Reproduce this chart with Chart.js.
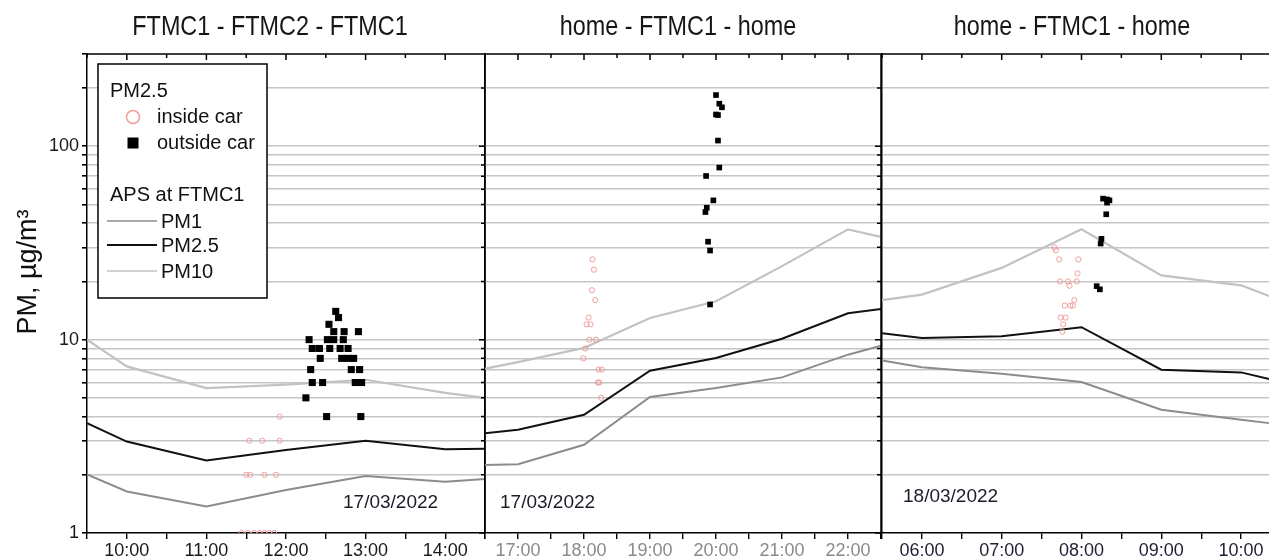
<!DOCTYPE html>
<html><head><meta charset="utf-8">
<script src="https://cdn.jsdelivr.net/npm/chart.js@4.4.1/dist/chart.umd.min.js"></script>
<style>
html,body{margin:0;padding:0;background:#fff;width:1269px;height:560px;overflow:hidden;position:relative}
canvas{position:absolute;top:0}
</style></head><body>
<canvas id="c1" width="490" height="560" style="left:0px"></canvas>
<canvas id="c2" width="406" height="560" style="left:480px"></canvas>
<canvas id="c3" width="410" height="560" style="left:877px"></canvas>
<script>
// ---------- data ----------
const panelTitles = ['FTMC1 - FTMC2 - FTMC1', 'home - FTMC1 - home', 'home - FTMC1 - home'];
const panelDates = ['17/03/2022', '17/03/2022', '18/03/2022'];
const yGridValues = [1,2,3,4,5,6,7,8,9,10,20,30,40,50,60,70,80,90,100,200,300];
const yLabelValues = [1, 10, 100];
const legendHeads = ['PM2.5', 'APS at FTMC1'];
const legendPoints = ['inside car', 'outside car'];
const legendLines = ['PM1', 'PM2.5', 'PM10'];

// panel 1 (17/03/2022, 09:30-14:30), hours as decimal
const p1Hours = [9.5, 10, 11, 12, 13, 14, 14.5];
const p1PM1  = [2.01, 1.64, 1.37, 1.67, 1.97, 1.84, 1.9];
const p1PM25 = [3.70, 2.97, 2.37, 2.69, 3.0, 2.71, 2.73];
const p1PM10 = [10.0, 7.27, 5.62, 5.85, 6.2, 5.3, 5.0];
const p1InX = [11.92, 11.54, 11.70, 11.92, 11.50, 11.55, 11.73, 11.875, 11.44, 11.52, 11.60, 11.67, 11.73, 11.79, 11.85];
const p1InY = [4, 3, 3, 3, 2, 2, 2, 2, 1, 1, 1, 1, 1, 1, 1];
const p1OutX = [12.625, 12.66, 12.54, 12.60, 12.73, 12.91, 12.29, 12.52, 12.60, 12.72, 12.33, 12.42, 12.55, 12.68, 12.78, 12.43, 12.70, 12.78, 12.85, 12.31, 12.82, 12.925, 12.33, 12.46, 12.87, 12.95, 12.25, 12.51, 12.94];
const p1OutY = [14, 13, 12, 11, 11, 11, 10, 10, 10, 10, 9, 9, 9, 9, 9, 8, 8, 8, 8, 7, 7, 7, 6, 6, 6, 6, 5, 4, 4];

// panel 2 (17/03/2022, 16:30-22:30)
const p2Hours = [16.5, 17, 18, 19, 20, 21, 22, 22.5];
const p2PM1  = [2.25, 2.27, 2.86, 5.05, 5.62, 6.38, 8.36, 9.3];
const p2PM25 = [3.28, 3.42, 4.09, 6.91, 8.04, 10.1, 13.7, 14.4];
const p2PM10 = [7.08, 7.65, 9.06, 12.95, 15.8, 24.0, 37.2, 34.0];
const p2InX = [18.13, 18.15, 18.12, 18.17, 18.07, 18.04, 18.10, 18.08, 18.18, 18.02, 17.99, 18.22, 18.27, 18.21, 18.23, 18.26];
const p2InY = [26, 23, 18, 16, 13, 12, 12, 10, 10, 9, 8, 7, 7, 6, 6, 5];
const p2OutX = [20.00, 20.05, 20.09, 20.00, 20.03, 20.03, 20.05, 19.85, 19.96, 19.86, 19.84, 19.88, 19.91, 19.91];
const p2OutY = [184, 166, 159, 146, 145, 107, 77.6, 70.2, 52.5, 48.1, 45.7, 32.1, 28.9, 15.2];

// panel 3 (18/03/2022, 05:30-10:30)
const p3Hours = [5.5, 6, 7, 8, 9, 10, 10.35];
const p3PM1  = [7.81, 7.19, 6.66, 6.04, 4.34, 3.85, 3.70];
const p3PM25 = [10.8, 10.2, 10.4, 11.6, 6.99, 6.77, 6.26];
const p3PM10 = [16.0, 17.1, 23.5, 37.2, 21.5, 19.1, 16.8];
const p3InX = [7.66, 7.68, 7.72, 7.96, 7.95, 7.73, 7.83, 7.94, 7.85, 7.91, 7.79, 7.86, 7.89, 7.74, 7.80, 7.77, 7.76];
const p3InY = [30, 29, 26, 26, 22, 20, 20, 20, 19, 16, 15, 15, 15, 13, 13, 12, 11];
const p3OutX = [8.27, 8.32, 8.35, 8.32, 8.31, 8.25, 8.24, 8.19, 8.23];
const p3OutY = [53.6, 53.1, 52.5, 51.1, 44.5, 33.2, 31.4, 18.9, 18.2];

// ---------- styling ----------
const FONT = '"Liberation Sans", Arial, sans-serif';
Chart.defaults.font.family = FONT;
const COL = {pm1: '#8c8c8c', pm25: '#111111', pm10: '#c2c2c2', inside: '#f29c9c', grid: '#c6c6c6'};

function pts(xs, ys) { return xs.map((x, i) => ({x: x, y: ys[i]})); }
function hhmm(v) { return String(v).padStart(2, '0') + ':00'; }
function isDecade(v) { const l = Math.log10(v); return Math.abs(l - Math.round(l)) < 1e-9; }

const framePlugin = {
  id: 'frame',
  afterDraw(chart, args, o) {
    const ctx = chart.ctx, a = chart.chartArea, x = chart.scales.x, y = chart.scales.y;
    ctx.save();
    ctx.strokeStyle = '#000'; ctx.lineWidth = 1.5;
    ctx.beginPath();
    ctx.moveTo(a.left, a.top); ctx.lineTo(a.right, a.top);
    if (o.rightBorder) { ctx.moveTo(a.right, a.top); ctx.lineTo(a.right, a.bottom); }
    x.ticks.forEach(t => {
      const px = x.getPixelForValue(t.value);
      const len = Number.isInteger(t.value) ? 6 : 4;
      ctx.moveTo(px, a.top); ctx.lineTo(px, a.top + len);
    });
    if (o.rightBorder) {
      y.ticks.forEach(t => {
        const py = y.getPixelForValue(t.value);
        const len = isDecade(t.value) ? 6 : 4;
        ctx.moveTo(a.right, py); ctx.lineTo(a.right - len, py);
      });
    }
    ctx.stroke();
    // panel title (narrow face)
    ctx.fillStyle = '#161616';
    ctx.font = '28px ' + FONT;
    ctx.textAlign = 'center'; ctx.textBaseline = 'alphabetic';
    ctx.save();
    ctx.translate(a.left + o.titleDx, 35);
    ctx.scale(0.835, 1);
    ctx.fillText(o.title, 0, 0);
    ctx.restore();
    // date
    ctx.font = '19px ' + FONT;
    ctx.textAlign = 'left'; ctx.textBaseline = 'middle';
    ctx.fillStyle = '#1c1c2a';
    ctx.fillText(o.date, a.left + o.dateDx, a.bottom - o.dateDy);
    ctx.restore();
  }
};

const legendPlugin = {
  id: 'boxLegend',
  afterDraw(chart, args, o) {
    if (!o.show) return;
    const ctx = chart.ctx;
    ctx.save();
    ctx.fillStyle = '#fff';
    ctx.fillRect(98, 64, 169, 234);
    ctx.strokeStyle = '#000'; ctx.lineWidth = 1.5;
    ctx.strokeRect(98, 64, 169, 234);
    ctx.font = '20px ' + FONT;
    ctx.fillStyle = '#111';
    ctx.textAlign = 'left'; ctx.textBaseline = 'middle';
    ctx.fillText(legendHeads[0], 110, 91);
    ctx.beginPath(); ctx.arc(133, 117, 6.5, 0, Math.PI * 2);
    ctx.strokeStyle = COL.inside; ctx.lineWidth = 1.5; ctx.stroke();
    ctx.fillText(legendPoints[0], 157, 117);
    ctx.fillStyle = '#000'; ctx.fillRect(127.5, 137.5, 11, 11);
    ctx.fillStyle = '#111';
    ctx.fillText(legendPoints[1], 157, 143);
    ctx.fillText(legendHeads[1], 110, 195);
    const ly = [221, 245, 271], lc = [COL.pm1, COL.pm25, COL.pm10], lw = [1.6, 2, 1.6];
    legendLines.forEach((name, i) => {
      ctx.beginPath(); ctx.moveTo(107, ly[i]); ctx.lineTo(157, ly[i]);
      ctx.strokeStyle = lc[i]; ctx.lineWidth = lw[i]; ctx.stroke();
      ctx.fillStyle = '#111';
      ctx.fillText(name, 161, ly[i] + 1);
    });
    // y-axis title
    ctx.save();
    ctx.translate(36, 272); ctx.rotate(-Math.PI / 2);
    ctx.font = '27px ' + FONT; ctx.textAlign = 'center'; ctx.textBaseline = 'alphabetic';
    ctx.fillStyle = '#111';
    ctx.fillText('PM, \u00b5g/m\u00b3', 0, 0);
    ctx.restore();
    ctx.restore();
  }
};

function panel(id, o) {
  const datasets = [
    {type: 'scatter', label: legendPoints[1], data: pts(o.outX, o.outY), pointStyle: 'rect', pointRadius: o.sq,
     backgroundColor: '#000', borderColor: '#000', borderWidth: 0},
    {type: 'scatter', label: legendPoints[0], data: pts(o.inX, o.inY), pointStyle: 'circle', pointRadius: 2.6,
     borderColor: COL.inside, borderWidth: 1, backgroundColor: 'rgba(255,255,255,0)'},
    {type: 'line', label: legendLines[1], data: pts(o.hours, o.pm25), borderColor: COL.pm25, borderWidth: 2, pointRadius: 0, tension: 0},
    {type: 'line', label: legendLines[0], data: pts(o.hours, o.pm1), borderColor: COL.pm1, borderWidth: 2, pointRadius: 0, tension: 0},
    {type: 'line', label: legendLines[2], data: pts(o.hours, o.pm10), borderColor: COL.pm10, borderWidth: 2.2, pointRadius: 0, tension: 0}
  ];
  return new Chart(document.getElementById(id), {
    type: 'scatter',
    data: {datasets: datasets},
    plugins: [framePlugin, legendPlugin],
    options: {
      responsive: false, animation: false, events: [],
      layout: {padding: {left: o.padL, right: o.padR, top: 54, bottom: 0}},
      plugins: {
        legend: {display: false}, tooltip: {enabled: false},
        frame: {title: o.title, titleDx: o.titleDx, date: o.date, dateDx: o.dateDx, dateDy: o.dateDy, rightBorder: o.rightBorder},
        boxLegend: {show: o.legend}
      },
      scales: {
        x: {
          type: 'linear', min: o.xmin, max: o.xmax,
          afterFit(s) { s.height = 27; s.paddingLeft = 0; s.paddingRight = 0; },
          border: {display: true, color: '#000', width: 1.5},
          grid: {drawOnChartArea: false, drawTicks: true, tickLength: 6, tickColor: '#000', lineWidth: 1.4},
          ticks: {stepSize: 0.5, autoSkip: false, maxRotation: 0, minRotation: 0, padding: 1,
                  color: o.tickColor, font: {size: 18},
                  callback: v => Number.isInteger(v) ? hhmm(v) : ''}
        },
        y: {
          type: 'logarithmic', min: 1, max: 300,
          afterBuildTicks(s) { s.ticks = yGridValues.map(v => ({value: v, major: isDecade(v)})); },
          afterFit(s) { s.width = o.yw; s.paddingTop = 0; s.paddingBottom = 0; },
          border: {display: true, color: '#000', width: 1.5},
          grid: {color: c => (c.tick && (c.tick.value <= 1 || c.tick.value >= 300)) ? 'rgba(0,0,0,0)' : COL.grid,
                 lineWidth: 1.6, drawTicks: o.legend, tickLength: 5, tickColor: '#000'},
          ticks: {display: o.legend, autoSkip: false, padding: 3, color: '#1a1a1a', font: {size: 18},
                  callback: v => yLabelValues.some(d => Math.abs(d - v) < 1e-6) ? String(Math.round(v)) : ''}
        }
      }
    }
  });
}

panel('c1', {hours: p1Hours, pm1: p1PM1, pm25: p1PM25, pm10: p1PM10, inX: p1InX, inY: p1InY, outX: p1OutX, outY: p1OutY,
  sq: 5, xmin: 9.5, xmax: 14.5, padL: 0, padR: 5, yw: 87, legend: true, rightBorder: true, tickColor: '#1a1a1a',
  title: panelTitles[0], titleDx: 183, date: panelDates[0], dateDx: 256, dateDy: 30});
panel('c2', {hours: p2Hours, pm1: p2PM1, pm25: p2PM25, pm10: p2PM10, inX: p2InX, inY: p2InY, outX: p2OutX, outY: p2OutY,
  sq: 4, xmin: 16.5, xmax: 22.5, padL: 5, padR: 5, yw: 0, legend: false, rightBorder: true, tickColor: '#8a8a8a',
  title: panelTitles[1], titleDx: 193, date: panelDates[1], dateDx: 15, dateDy: 30});
panel('c3', {hours: p3Hours, pm1: p3PM1, pm25: p3PM25, pm10: p3PM10, inX: p3InX, inY: p3InY, outX: p3OutX, outY: p3OutY,
  sq: 4, xmin: 5.5, xmax: 10.5, padL: 5, padR: 6, yw: 0, legend: false, rightBorder: false, tickColor: '#1f1f33',
  title: panelTitles[2], titleDx: 190, date: panelDates[2], dateDx: 21, dateDy: 36});
</script>
</body></html>
